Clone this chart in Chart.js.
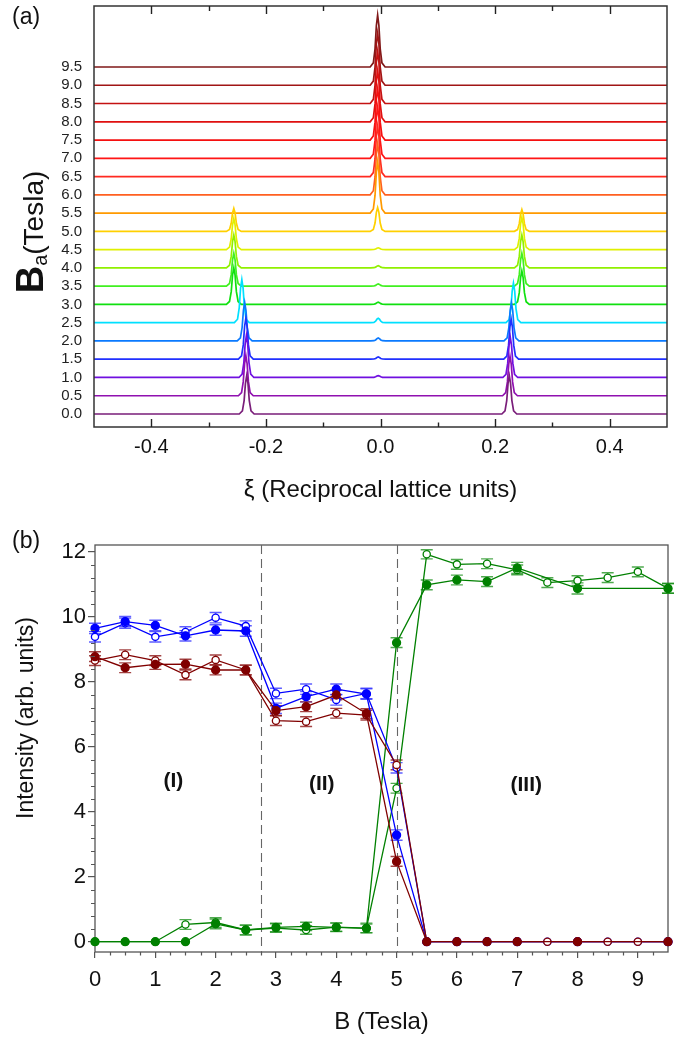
<!DOCTYPE html>
<html><head><meta charset="utf-8">
<script src="https://cdn.jsdelivr.net/npm/chart.js@4.4.0/dist/chart.umd.min.js"></script>
<style>
html,body{margin:0;padding:0;background:#fff;}
#wrapA{position:absolute;left:0;top:0;width:680px;height:515px;}
#wrapB{position:absolute;left:0;top:515px;width:680px;height:522px;}
canvas{display:block;}
</style></head><body>
<div id="wrapA"><canvas id="chartA" width="680" height="515"></canvas></div>
<div id="wrapB"><canvas id="chartB" width="680" height="522"></canvas></div>
<script>
// ---------------- Panel (a) data ----------------
const fieldValuesA = [0.0,0.5,1.0,1.5,2.0,2.5,3.0,3.5,4.0,4.5,5.0,5.5,6.0,6.5,7.0,7.5,8.0,8.5,9.0,9.5];
const yTickLabelsA = ['0.0','0.5','1.0','1.5','2.0','2.5','3.0','3.5','4.0','4.5','5.0','5.5','6.0','6.5','7.0','7.5','8.0','8.5','9.0','9.5'];
const xTickValuesA = [-0.4,-0.2,0.0,0.2,0.4];
const xTickLabelsA = ['-0.4','-0.2','0.0','0.2','0.4'];
const xMinorTicksA = [-0.3,-0.1,0.1,0.3];
const leftPeakXi  = [-0.2335,-0.235,-0.234,-0.235,-0.237,-0.242,-0.256,-0.256,-0.256,-0.256,-0.256,null,null,null,null,null,null,null,null,null];
const leftPeakH   = [1.05,1.10,1.15,1.12,1.05,1.18,1.00,0.90,0.90,0.85,0.63,null,null,null,null,null,null,null,null,null];
const rightPeakXi = [0.2248,0.226,0.2265,0.228,0.2285,0.232,0.2467,0.2467,0.2467,0.2467,0.2467,null,null,null,null,null,null,null,null,null];
const rightPeakH  = [1.05,1.08,1.10,1.10,1.05,1.08,0.92,0.90,0.90,0.88,0.60,null,null,null,null,null,null,null,null,null];
const centerPeakXi = [-0.004,-0.004,-0.004,-0.004,-0.004,-0.004,-0.004,-0.004,-0.004,-0.004,-0.005,-0.005,-0.005,-0.005,-0.005,-0.005,-0.005,-0.005,-0.005,-0.005];
const centerPeakH  = [0,0,0.05,0.06,0.08,0.12,0.06,0.06,0.06,0.05,0.65,1.40,1.40,1.38,1.40,1.40,1.40,1.42,1.42,1.42];
const peakProfileDxi = [-0.013,-0.0075,-0.0045,-0.0022,0,0.0022,0.0045,0.0075,0.013];
const peakProfileRel = [0,0.08,0.35,0.8,1,0.8,0.35,0.08,0];
const traceColors = ['#7a1e7a','#9010b0','#7010e0','#2030ff','#0a7aff','#00e0ff','#10e010','#40f020','#90f000','#e0f000',
                     '#ffd000','#ff9a00','#ff6020','#ff2a20','#ff1515','#f51010','#e01010','#c41212','#a01515','#801818'];

// ---------------- Panel (b) data ----------------
const fieldsB = [0,0.5,1,1.5,2,2.5,3,3.5,4,4.5,5,5.5,6,6.5,7,7.5,8,8.5,9,9.5];
const xTickValuesB = [0,1,2,3,4,5,6,7,8,9];
const xTickLabelsB = ['0','1','2','3','4','5','6','7','8','9'];
const yTickValuesB = [0,2,4,6,8,10,12];
const yTickLabelsB = ['0','2','4','6','8','10','12'];
const blueFilled  = [9.64,9.85,9.73,9.41,9.59,9.56,7.18,7.54,7.77,7.62,3.28,0,0,0,0,null,0,null,null,0];
const blueOpen    = [9.38,9.80,9.38,9.53,9.97,9.71,7.64,7.77,7.44,7.64,5.35,0,0,0,0,0,0,0,0,0];
const redFilled   = [8.77,8.43,8.53,8.54,8.36,8.36,7.11,7.23,7.59,7.02,2.47,0,0,0,0,null,0,null,null,0];
const redOpen     = [8.65,8.83,8.65,8.21,8.67,8.36,6.80,6.77,7.03,6.97,5.44,0,0,0,0,0,0,0,0,0];
const greenFilled = [0,0,0,0,0.55,0.36,0.44,0.47,0.44,0.41,9.20,10.98,11.13,11.08,11.50,null,10.87,null,null,10.87];
const greenOpen   = [0,0,0,0.53,0.59,0.36,0.42,0.36,0.45,0.42,4.72,11.92,11.61,11.63,11.44,11.05,11.11,11.20,11.38,10.87];
const blueFilledErr  = [0.16,0.16,0.16,0.16,0.16,0.16,0.16,0.16,0.16,0.16,0.16,0,0,0,0,0,0,0,0,0];
const blueOpenErr    = [0.16,0.16,0.16,0.16,0.16,0.16,0.16,0.16,0.16,0.16,0.16,0,0,0,0,0,0,0,0,0];
const redFilledErr   = [0.15,0.15,0.15,0.15,0.15,0.15,0.15,0.15,0.15,0.15,0.15,0,0,0,0,0,0,0,0,0];
const redOpenErr     = [0.15,0.15,0.15,0.15,0.15,0.15,0.15,0.15,0.15,0.15,0.15,0,0,0,0,0,0,0,0,0];
const greenFilledErr = [0,0,0,0,0.15,0.15,0.13,0.13,0.13,0.13,0.15,0.15,0.15,0.15,0.17,0,0.17,0,0,0.15];
const greenOpenErr   = [0,0,0,0.15,0.15,0.15,0.13,0.13,0.13,0.15,0.15,0.14,0.15,0.15,0.15,0.15,0.15,0.15,0.15,0.15];
const phaseBoundaries = [2.75, 5.0];
const regionNames = ['(I)','(II)','(III)'];

const FONT = "'Liberation Sans', Arial, Helvetica, sans-serif";

// ---------------- Build panel (a) datasets ----------------
const tracesA = fieldValuesA.map((B, i) => {
  const peaks = [];
  if (leftPeakH[i]) peaks.push([leftPeakXi[i], leftPeakH[i]]);
  if (centerPeakH[i]) peaks.push([centerPeakXi[i], centerPeakH[i]]);
  if (rightPeakH[i]) peaks.push([rightPeakXi[i], rightPeakH[i]]);
  const pts = [{x: -0.5, y: B}];
  peaks.forEach(([c, h]) => peakProfileDxi.forEach((dx, k) => pts.push({x: c + dx, y: B + h * peakProfileRel[k]})));
  pts.push({x: 0.5, y: B});
  return {label: yTickLabelsA[i] + ' T', data: pts, borderColor: traceColors[i], borderWidth: 1.7,
          pointRadius: 0, tension: 0, fill: false};
});

function zeroPad(s) { s.paddingTop = 0; s.paddingBottom = 0; s.paddingLeft = 0; s.paddingRight = 0; }

const panelAPlugin = {
  id: 'panelA',
  afterDraw(chart) {
    const {ctx, chartArea: a, scales: {x}} = chart;
    ctx.save();
    ctx.strokeStyle = '#333'; ctx.lineWidth = 1.5;
    ctx.strokeRect(a.left, a.top, a.right - a.left, a.bottom - a.top);
    ctx.lineWidth = 1.4; ctx.strokeStyle = '#222';
    ctx.beginPath();
    xTickValuesA.forEach(v => { const p = Math.round(x.getPixelForValue(v)) + 0.5;
      ctx.moveTo(p, a.bottom); ctx.lineTo(p, a.bottom - 8); ctx.moveTo(p, a.top); ctx.lineTo(p, a.top + 8); });
    xMinorTicksA.forEach(v => { const p = Math.round(x.getPixelForValue(v)) + 0.5;
      ctx.moveTo(p, a.bottom); ctx.lineTo(p, a.bottom - 4.5); ctx.moveTo(p, a.top); ctx.lineTo(p, a.top + 5); });
    ctx.stroke();
    ctx.fillStyle = '#111'; ctx.font = `23px ${FONT}`; ctx.textAlign = 'left'; ctx.textBaseline = 'middle';
    ctx.fillText('(a)', 12, 18);
    ctx.translate(30, 232); ctx.rotate(-Math.PI / 2);
    ctx.textBaseline = 'alphabetic';
    ctx.font = `bold 38px ${FONT}`; const wB = ctx.measureText('B').width;
    ctx.font = `20px ${FONT}`; const wa = ctx.measureText('a').width;
    ctx.font = `28px ${FONT}`; const wT = ctx.measureText('(Tesla)').width;
    let x0 = -(wB + wa + wT) / 2;
    ctx.font = `bold 38px ${FONT}`; ctx.fillText('B', x0, 13);
    ctx.font = `20px ${FONT}`; ctx.fillText('a', x0 + wB, 17);
    ctx.font = `28px ${FONT}`; ctx.fillText('(Tesla)', x0 + wB + wa, 13);
    ctx.restore();
  }
};

new Chart(document.getElementById('chartA'), {
  type: 'line',
  data: {datasets: tracesA},
  options: {
    responsive: false, animation: false, devicePixelRatio: 1, events: [],
    layout: {padding: {top: 6, right: 13, left: 0, bottom: 0}},
    plugins: {legend: {display: false}, tooltip: {enabled: false}},
    scales: {
      x: {type: 'linear', min: -0.5, max: 0.5,
        afterBuildTicks: s => { s.ticks = xTickValuesA.map(v => ({value: v})); },
        afterFit: s => { s.height = 88; zeroPad(s); },
        grid: {display: false, drawTicks: false}, border: {display: false},
        ticks: {padding: 8, autoSkip: false, maxRotation: 0, color: '#111', font: {family: FONT, size: 20},
                callback: (v, i) => xTickLabelsA[i]},
        title: {display: true, text: 'ξ (Reciprocal lattice units)', color: '#111', font: {family: FONT, size: 24},
                padding: {top: 0, bottom: 10}}
      },
      y: {type: 'linear', min: -0.356, max: 11.17,
        afterBuildTicks: s => { s.ticks = fieldValuesA.map(v => ({value: v})); },
        afterFit: s => { s.width = 94; zeroPad(s); },
        grid: {display: false, drawTicks: false}, border: {display: false},
        ticks: {padding: 12, autoSkip: false, color: '#222', font: {family: FONT, size: 15},
                callback: (v, i) => yTickLabelsA[i]}
      }
    }
  },
  plugins: [panelAPlugin]
});

// ---------------- Build panel (b) datasets ----------------
function seriesB(name, values, errs, color, errColor, filled) {
  return {
    label: name,
    data: fieldsB.map((b, i) => ({x: b, y: values[i]})),
    errorBars: errs, errorColor: errColor,
    borderColor: color, borderWidth: 1.3, tension: 0, fill: false, spanGaps: true, clip: false,
    pointRadius: filled ? 4 : 3.6, pointBorderWidth: 1.3,
    pointBackgroundColor: filled ? color : '#ffffff', pointBorderColor: color
  };
}
const datasetsB = [
  seriesB('red filled', redFilled, redFilledErr, '#800000', 'rgba(140,20,20,0.8)', true),
  seriesB('red open', redOpen, redOpenErr, '#800000', 'rgba(140,20,20,0.8)', false),
  seriesB('blue filled', blueFilled, blueFilledErr, '#0000ff', 'rgba(40,40,255,0.75)', true),
  seriesB('blue open', blueOpen, blueOpenErr, '#0000ff', 'rgba(40,40,255,0.75)', false),
  seriesB('green filled', greenFilled, greenFilledErr, '#008000', 'rgba(20,140,20,0.75)', true),
  seriesB('green open', greenOpen, greenOpenErr, '#008000', 'rgba(20,140,20,0.75)', false)
];

const panelBPlugin = {
  id: 'panelB',
  beforeDatasetsDraw(chart) {
    const {ctx, chartArea: a, scales: {x, y}} = chart;
    ctx.save();
    ctx.strokeStyle = '#555'; ctx.lineWidth = 1.3;
    ctx.strokeRect(a.left, a.top, a.right - a.left, a.bottom - a.top);
    ctx.strokeStyle = '#666'; ctx.lineWidth = 1.1; ctx.setLineDash([9, 5]);
    phaseBoundaries.forEach(v => { const p = Math.round(x.getPixelForValue(v)) + 0.5;
      ctx.beginPath(); ctx.moveTo(p, a.top); ctx.lineTo(p, a.bottom); ctx.stroke(); });
    ctx.setLineDash([]);
    ctx.lineWidth = 1.4;
    chart.data.datasets.slice().reverse().forEach(ds => {
      ctx.strokeStyle = ds.errorColor;
      ds.data.forEach((pt, i) => {
        const e = ds.errorBars[i];
        if (pt.y === null || !e) return;
        const px = x.getPixelForValue(pt.x);
        const y1 = y.getPixelForValue(pt.y + e), y2 = y.getPixelForValue(pt.y - e);
        ctx.beginPath();
        ctx.moveTo(px, y1); ctx.lineTo(px, y2);
        ctx.moveTo(px - 6, y1); ctx.lineTo(px + 6, y1);
        ctx.moveTo(px - 6, y2); ctx.lineTo(px + 6, y2);
        ctx.stroke();
      });
    });
    ctx.restore();
  },
  afterDraw(chart) {
    const {ctx, chartArea: a, scales: {x, y}} = chart;
    ctx.save();
    ctx.strokeStyle = '#555'; ctx.lineWidth = 1.2;
    ctx.beginPath();
    for (let k = 1; k < 38; k++) { if (k % 4 === 0) continue;
      const p = Math.round(x.getPixelForValue(k * 0.25)) + 0.5; ctx.moveTo(p, a.bottom); ctx.lineTo(p, a.bottom + 3.5); }
    for (let k = 1; k < 30; k++) { if (k % 5 === 0) continue;
      const p = Math.round(y.getPixelForValue(k * 0.4)) + 0.5; ctx.moveTo(a.left, p); ctx.lineTo(a.left - 4, p); }
    ctx.stroke();
    const regionPos = [[1.3, 4.95], [3.76, 4.85], [7.15, 4.8]];
    ctx.fillStyle = '#111'; ctx.font = `bold 21px ${FONT}`; ctx.textAlign = 'center'; ctx.textBaseline = 'middle';
    regionNames.forEach((t, i) => ctx.fillText(t, x.getPixelForValue(regionPos[i][0]), y.getPixelForValue(regionPos[i][1])));
    ctx.font = `23px ${FONT}`; ctx.textAlign = 'left';
    ctx.fillText('(b)', 12, 27);
    ctx.translate(27, 203); ctx.rotate(-Math.PI / 2);
    ctx.textAlign = 'center'; ctx.font = `23px ${FONT}`;
    ctx.fillText('Intensity (arb. units)', 0, 0);
    ctx.restore();
  }
};

new Chart(document.getElementById('chartB'), {
  type: 'line',
  data: {datasets: datasetsB},
  options: {
    responsive: false, animation: false, devicePixelRatio: 1, events: [],
    layout: {padding: {top: 30, right: 12, left: 0, bottom: 0}},
    plugins: {legend: {display: false}, tooltip: {enabled: false}},
    scales: {
      x: {type: 'linear', min: 0, max: 9.5,
        afterBuildTicks: s => { s.ticks = xTickValuesB.map(v => ({value: v})); },
        afterFit: s => { s.height = 85; zeroPad(s); },
        grid: {display: true, drawOnChartArea: false, drawTicks: true, tickLength: 6, color: '#555', lineWidth: 1.2},
        border: {display: false},
        ticks: {padding: 9, autoSkip: false, maxRotation: 0, color: '#111', font: {family: FONT, size: 22},
                callback: (v, i) => xTickLabelsB[i]},
        title: {display: true, text: 'B (Tesla)', color: '#111', font: {family: FONT, size: 24},
                padding: {top: 0, bottom: 0}}
      },
      y: {type: 'linear', min: -0.317, max: 12.206,
        afterBuildTicks: s => { s.ticks = yTickValuesB.map(v => ({value: v})); },
        afterFit: s => { s.width = 95; zeroPad(s); },
        grid: {display: true, drawOnChartArea: false, drawTicks: true, tickLength: 7, color: '#555', lineWidth: 1.2},
        border: {display: false},
        ticks: {padding: 2, autoSkip: false, color: '#111', font: {family: FONT, size: 22},
                callback: (v, i) => yTickLabelsB[i]}
      }
    }
  },
  plugins: [panelBPlugin]
});
</script>
</body></html>
